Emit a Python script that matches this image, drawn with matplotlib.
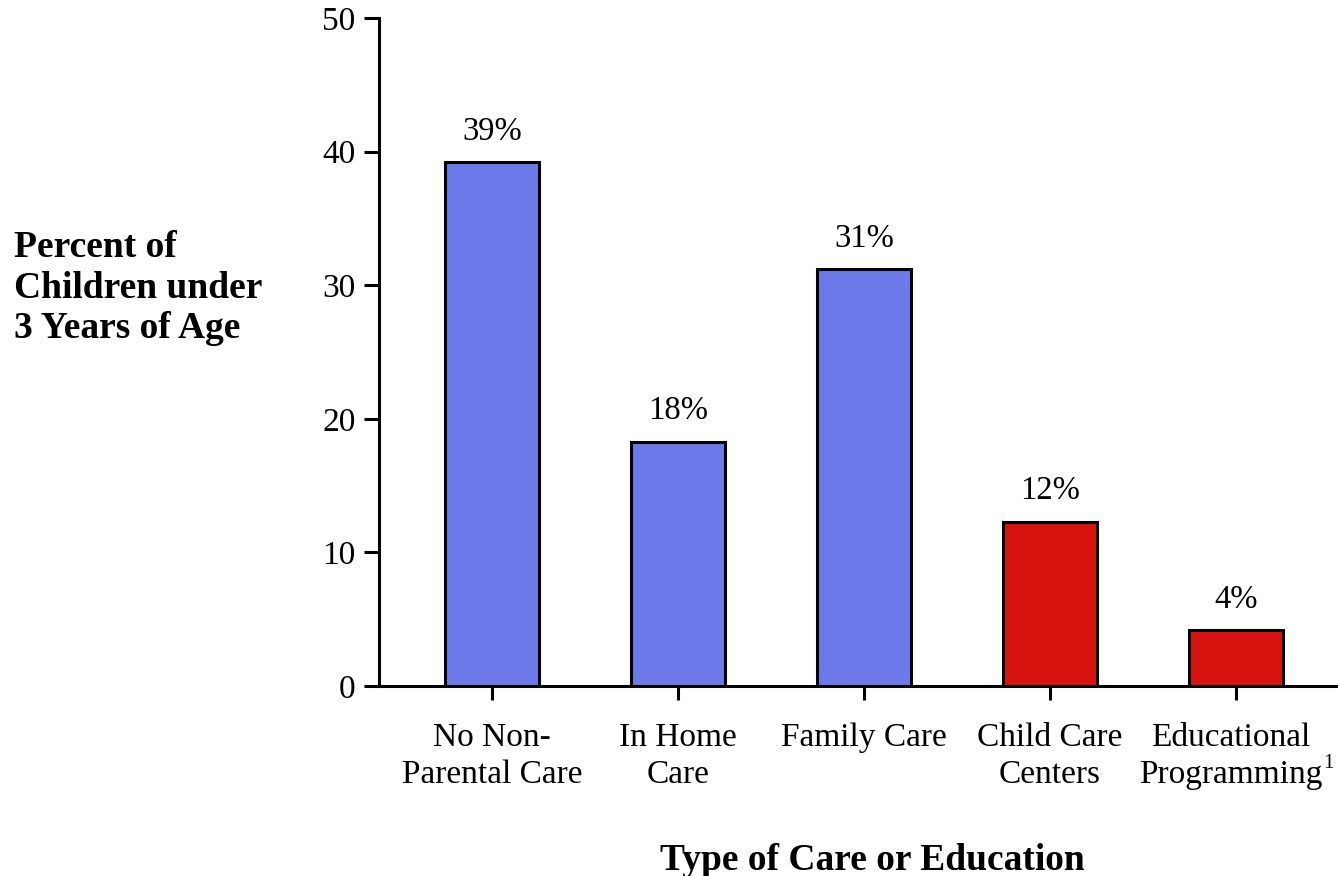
import matplotlib
matplotlib.use("Agg")
import matplotlib.pyplot as plt
from matplotlib.transforms import ScaledTranslation

categories = ["No Non-\nParental Care", "In Home\nCare", "Family Care", "Child Care\nCenters", "Educational\nProgramming"]
footnote_marks = ["", "", "", "", "1"]
values = [39.2, 18.3, 31.2, 12.3, 4.2]
labels = ["39%", "18%", "31%", "12%", "4%"]
colors = ["#6B7AE8", "#6B7AE8", "#6B7AE8", "#D7140F", "#D7140F"]
yticks = [0, 10, 20, 30, 40, 50]

plt.rcParams["font.family"] = ["Liberation Serif", "DejaVu Serif"]

fig = plt.figure(figsize=(13.38, 8.76), dpi=100)
ax = fig.add_axes([379/1338, 1 - 686/876, 1 - 379/1338, (686 - 18)/876])

x = list(range(len(categories)))
ax.bar(x, values, width=0.506, color=colors, edgecolor="black", linewidth=2.2, zorder=3)
for xi, v, lab in zip(x, values, labels):
    ax.annotate(lab, (xi, v), xytext=(0, 22), textcoords="offset points",
                ha="center", va="center", fontsize=23.5)

ax.set_xlim(-0.61, 4.55)
ax.set_ylim(0, 50)
ax.set_yticks(yticks)
ax.set_yticklabels([str(t) for t in yticks], fontsize=24)
ax.set_xticks(x)
ax.set_xticklabels(categories, fontsize=24, linespacing=1.3)

for s in ["top", "right"]:
    ax.spines[s].set_visible(False)
ax.spines["left"].set_linewidth(2.2)
ax.spines["bottom"].set_linewidth(2.2)
ax.tick_params(axis="y", length=11, width=2.2, pad=6)
ax.tick_params(axis="x", length=10, width=2.2, pad=16)

# shift labels with a footnote mark slightly left so label+mark are centred
for tl, mark in zip(ax.get_xticklabels(), footnote_marks):
    if mark:
        tl.set_transform(tl.get_transform() + ScaledTranslation(-0.05, 0, fig.dpi_scale_trans))

fig.canvas.draw()
renderer = fig.canvas.get_renderer()
for tl, mark in zip(ax.get_xticklabels(), footnote_marks):
    if mark:
        bb = tl.get_window_extent(renderer)
        line_h = bb.height / 2
        fig.text(bb.x1 / fig.bbox.width + 1/1338, (bb.y0 + line_h * 0.78) / fig.bbox.height,
                 mark, fontsize=15, ha="left", va="center")

fig.text(14/1338, 1 - 288/876, "Percent of\nChildren under\n3 Years of Age", fontsize=27,
         fontweight="bold", ha="left", va="center", linespacing=1.2)
fig.text(872/1338, 1 - 860/876, "Type of Care or Education", fontsize=27,
         fontweight="bold", ha="center", va="center")

fig.savefig("out.png", dpi=100)
